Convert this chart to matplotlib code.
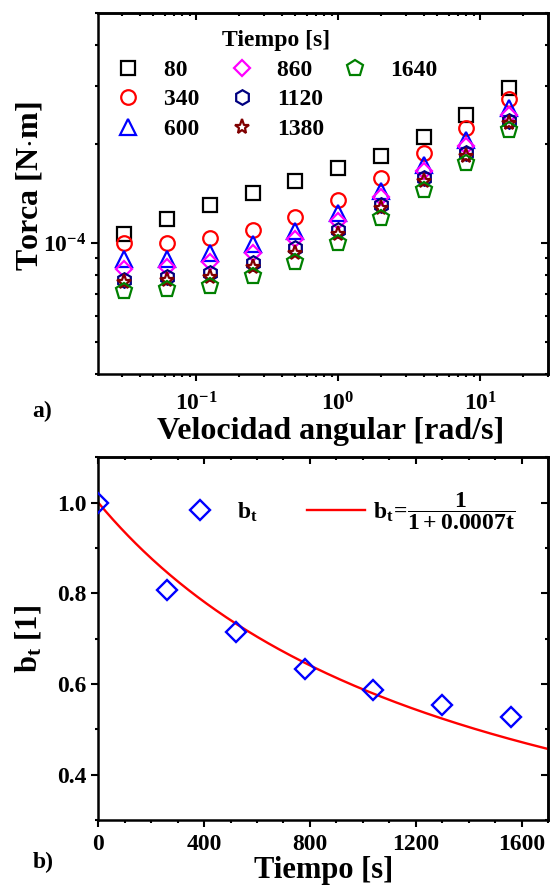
import numpy as np
import matplotlib
matplotlib.use('Agg')
import matplotlib.pyplot as plt
from matplotlib.lines import Line2D
from matplotlib.ticker import MultipleLocator, NullFormatter, FuncFormatter

plt.rcParams['font.family'] = ['Liberation Serif', 'DejaVu Serif']
plt.rcParams['font.weight'] = 'bold'
plt.rcParams['axes.labelweight'] = 'bold'
plt.rcParams['mathtext.fontset'] = 'custom'
plt.rcParams['mathtext.rm'] = 'Liberation Serif:bold'
plt.rcParams['mathtext.it'] = 'Liberation Serif:bold'
plt.rcParams['mathtext.bf'] = 'Liberation Serif:bold'
plt.rcParams['mathtext.default'] = 'bf'
plt.rcParams['axes.linewidth'] = 1.8

# panel a) torque vs angular velocity, one series per time
velocidad = [0.03125, 0.0625, 0.125, 0.25, 0.5, 1, 2, 4, 8, 16]
tiempos = ['80', '340', '600', '860', '1120', '1380', '1640']
torca_80 = [1.067e-4, 1.188e-4, 1.31e-4, 1.425e-4, 1.54e-4, 1.69e-4, 1.84e-4, 2.10e-4, 2.46e-4, 2.97e-4]
torca_340 = [1.00e-4, 1.00e-4, 1.033e-4, 1.093e-4, 1.20e-4, 1.357e-4, 1.577e-4, 1.877e-4, 2.235e-4, 2.745e-4]
torca_600 = [0.892e-4, 0.896e-4, 0.933e-4, 0.991e-4, 1.087e-4, 1.235e-4, 1.438e-4, 1.73e-4, 2.063e-4, 2.57e-4]
torca_860 = [0.832e-4, 0.846e-4, 0.876e-4, 0.935e-4, 1.026e-4, 1.166e-4, 1.378e-4, 1.653e-4, 1.968e-4, 2.455e-4]
torca_1120 = [0.771e-4, 0.789e-4, 0.813e-4, 0.872e-4, 0.968e-4, 1.10e-4, 1.31e-4, 1.577e-4, 1.877e-4, 2.353e-4]
torca_1380 = [0.764e-4, 0.771e-4, 0.789e-4, 0.846e-4, 0.935e-4, 1.067e-4, 1.279e-4, 1.541e-4, 1.835e-4, 2.315e-4]
torca_1640 = [0.715e-4, 0.724e-4, 0.741e-4, 0.794e-4, 0.876e-4, 1.0e-4, 1.193e-4, 1.455e-4, 1.752e-4, 2.21e-4]
torcas = [torca_80, torca_340, torca_600, torca_860, torca_1120, torca_1380, torca_1640]

# panel b) shift factor vs time
tiempo_b = [0, 260, 520, 780, 1040, 1300, 1560]
b_t = [1.0, 0.807, 0.715, 0.634, 0.586, 0.553, 0.527]
k_fit = 0.0007

markers = ['s', 'o', '^', 'D', 'h', '*', 'p']
colors = ['black', '#ff0000', '#0000ff', '#ff00ff', '#000080', '#800000', '#008000']
msizes = [9.5, 10.5, 11, 8, 10.5, 11, 12]

fig = plt.figure(figsize=(5.5, 8.9), dpi=100)
ax1 = fig.add_axes([0.1787, 0.5798, 0.8176, 0.4053])
ax2 = fig.add_axes([0.1787, 0.0787, 0.8176, 0.4075])

# ---- a) ----
handles = []
for i in range(len(tiempos)):
    h, = ax1.plot(velocidad, torcas[i], linestyle='none', marker=markers[i],
                  markersize=msizes[i], markerfacecolor='none',
                  markeredgecolor=colors[i], markeredgewidth=1.6, label=tiempos[i])
    handles.append(h)

ax1.set_xscale('log')
ax1.set_yscale('log')
ax1.set_xlim(0.0205, 30)
ax1.set_ylim(4e-5, 5e-4)

fmt = FuncFormatter(lambda v, p: r'$\mathbf{10^{%d}}$' % round(np.log10(v)))
ax1.xaxis.set_major_formatter(fmt)
ax1.yaxis.set_major_formatter(fmt)
ax1.xaxis.set_minor_formatter(NullFormatter())
ax1.yaxis.set_minor_formatter(NullFormatter())

ax1.set_xlabel('Velocidad angular [rad/s]', fontsize=23, labelpad=1, x=0.517)
ax1.set_ylabel('Torca [N$\\cdot$m]', fontsize=23, labelpad=-1, y=0.52)

# first legend column padded so the three columns get equal widths
leg_labels = [t if len(t) == 4 else t + '\u2002' for t in tiempos]
blank = Line2D([], [], linestyle='none', marker='none')
leg1 = ax1.legend(handles + [blank, blank], leg_labels + ['', ''], ncol=3,
                  title='Tiempo [s]', title_fontsize=17, fontsize=17,
                  frameon=False, loc='upper left', bbox_to_anchor=(0.035, 0.953),
                  borderpad=0, borderaxespad=0, handlelength=1.2,
                  handletextpad=0.9, columnspacing=0.7, labelspacing=0.34)
leg1.get_title().set_fontweight('bold')

# ---- b) ----
t_fit = np.linspace(0, 1700, 300)
ax2.plot(tiempo_b, b_t, linestyle='none', marker='D', markersize=10,
         markerfacecolor='none', markeredgecolor='#0000ff', markeredgewidth=1.7,
         label='$b_t$', zorder=3)
ax2.plot(t_fit, 1 / (1 + k_fit * t_fit), color='#ff0000', linewidth=1.7,
         label=r'$b_t\!=\!\dfrac{1}{1+0.0007t}$')
ax2.set_xlim(0, 1700)
ax2.set_ylim(0.3, 1.1)
ax2.xaxis.set_major_locator(MultipleLocator(400))
ax2.xaxis.set_minor_locator(MultipleLocator(100))
ax2.yaxis.set_major_locator(MultipleLocator(0.2))
ax2.yaxis.set_minor_locator(MultipleLocator(0.1))
ax2.yaxis.set_major_formatter(FuncFormatter(lambda v, p: '%.1f' % v))
ax2.set_xlabel('Tiempo [s]', fontsize=22, labelpad=1)
ax2.set_ylabel('$b_t$ [1]', fontsize=22, labelpad=10)
ax2.legend(ncol=2, fontsize=17, frameon=False, loc='center left',
           bbox_to_anchor=(0.162, 0.852), borderpad=0, borderaxespad=0,
           handlelength=2.45, handletextpad=0.33, columnspacing=2.1)

for ax in (ax1, ax2):
    ax.tick_params(which='both', direction='out', width=1.5, labelsize=17,
                   top=False, right=False)
    ax.tick_params(which='major', length=5)
    ax.tick_params(which='minor', length=2.5)
    sx = ax.secondary_xaxis('top')
    sy = ax.secondary_yaxis('right')
    sx.tick_params(which='both', direction='in', width=1.5, labeltop=False)
    sy.tick_params(which='both', direction='in', width=1.5, labelright=False)
    sx.tick_params(which='major', length=5)
    sy.tick_params(which='major', length=5)
    sx.tick_params(which='minor', length=2.5)
    sy.tick_params(which='minor', length=2.5)
    if ax is ax2:
        sx.xaxis.set_major_locator(MultipleLocator(400))
        sx.xaxis.set_minor_locator(MultipleLocator(100))
        sy.yaxis.set_major_locator(MultipleLocator(0.2))
        sy.yaxis.set_minor_locator(MultipleLocator(0.1))

ax1.tick_params(axis='x', which='major', pad=8)
ax2.tick_params(axis='x', which='major', pad=5)

fig.text(0.076, 0.538, 'a)', fontsize=17, ha='center', va='center')
fig.text(0.078, 0.031, 'b)', fontsize=17, ha='center', va='center')

fig.savefig('out.png', dpi=100)
